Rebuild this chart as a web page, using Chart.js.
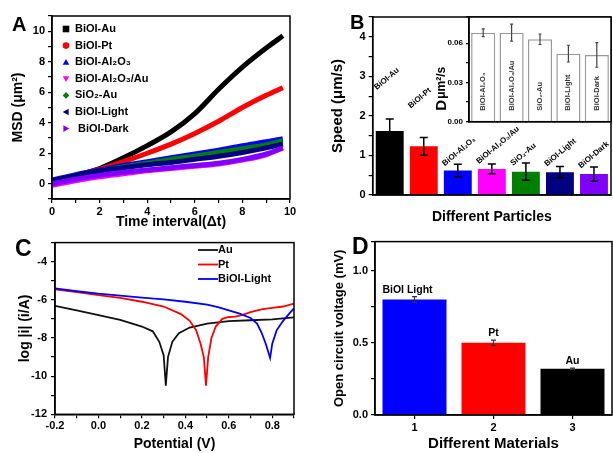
<!DOCTYPE html>
<html><head><meta charset="utf-8">
<script src="https://cdn.jsdelivr.net/npm/chart.js@4.4.0/dist/chart.umd.min.js"></script>
<style>
html,body{margin:0;padding:0;background:#fff;width:613px;height:453px;overflow:hidden;position:relative;font-family:'Liberation Sans',Arial,sans-serif}
canvas{position:absolute}
.lbl{position:absolute;font-weight:bold;line-height:1;color:#000}
</style></head><body>
<canvas id="cA" width="300" height="232" style="left:0;top:0"></canvas>
<canvas id="cB" width="313" height="232" style="left:300px;top:0"></canvas>
<canvas id="cBi" width="313" height="140" style="left:300px;top:0"></canvas>
<canvas id="cC" width="300" height="221" style="left:0;top:232px"></canvas>
<canvas id="cD" width="313" height="221" style="left:300px;top:232px"></canvas>
<div class="lbl" style="left:12px;top:14px;font-size:20px">A</div>
<div class="lbl" style="left:350px;top:12px;font-size:20px">B</div>
<div class="lbl" style="left:15px;top:237px;font-size:23px">C</div>
<div class="lbl" style="left:352px;top:235px;font-size:23px">D</div>
<script>
// ---------------- DATA ----------------
// Panel A: MSD vs time interval
const msdTime = [0, 1, 2, 3, 4, 5, 6, 7, 8, 9, 9.7];
const msdAu      = [0.2, 0.55, 1.0, 1.7, 2.5, 3.4, 4.6, 6.2, 7.65, 8.9, 9.7];
const msdPt      = [0.2, 0.55, 0.95, 1.45, 2.0, 2.6, 3.3, 4.1, 5.0, 5.8, 6.3];
const msdAl2O3   = [0.25, 0.6, 0.9, 1.2, 1.45, 1.7, 1.95, 2.2, 2.5, 2.75, 2.95];
const msdAl2O3Au = [-0.1, 0.2, 0.45, 0.65, 0.85, 1.0, 1.15, 1.3, 1.55, 1.9, 2.35];
const msdSiO2Au  = [0.2, 0.55, 0.85, 1.1, 1.35, 1.6, 1.8, 2.05, 2.3, 2.55, 2.8];
const msdLight   = [0.2, 0.55, 0.85, 1.05, 1.25, 1.4, 1.6, 1.8, 2.05, 2.35, 2.6];
const msdDark    = [0.0, 0.3, 0.55, 0.75, 0.9, 1.05, 1.2, 1.35, 1.6, 1.95, 2.35];
const msdNames = ['BiOI-Au', 'BiOI-Pt', 'BiOI-Al\u2082O\u2083', 'BiOI-Al\u2082O\u2083/Au', 'SiO\u2082-Au', 'BiOI-Light', 'BiOI-Dark'];

// Panel B: speed bars + inset diffusion bars
const particleNames = ['BiOI-Au', 'BiOI-Pt', 'BiOI-Al\u2082O\u2083', 'BiOI-Al\u2082O\u2083/Au', 'SiO\u2082-Au', 'BiOI-Light', 'BiOI-Dark'];
const speedValues = [1.62, 1.23, 0.62, 0.66, 0.59, 0.575, 0.53];
const speedErrors = [0.30, 0.225, 0.16, 0.125, 0.22, 0.145, 0.18];
const diffNames = ['BiOI-Al\u2082O\u2083', 'BiOI-Al\u2082O\u2083/Au', 'SiO\u2082-Au', 'BiOI-Light', 'BiOI-Dark'];
const diffValues = [0.068, 0.068, 0.063, 0.052, 0.051];
const diffErrors = [0.003, 0.0065, 0.004, 0.0064, 0.0094];

// Panel C: Tafel curves
const auPotential = [-0.2, -0.1, 0.0, 0.1, 0.2, 0.25, 0.28, 0.30, 0.31, 0.32, 0.34, 0.37, 0.42, 0.5, 0.6, 0.7, 0.8, 0.9];
const auLogI      = [-6.32, -6.55, -6.8, -7.05, -7.4, -7.65, -8.2, -8.9, -10.5, -9.0, -8.2, -7.75, -7.45, -7.25, -7.12, -7.07, -7.02, -6.92];
const ptPotential = [-0.2, -0.1, 0.0, 0.1, 0.2, 0.3, 0.38, 0.42, 0.45, 0.47, 0.485, 0.495, 0.505, 0.52, 0.54, 0.57, 0.6, 0.63, 0.66, 0.7, 0.75, 0.8, 0.85, 0.9];
const ptLogI      = [-5.45, -5.6, -5.75, -5.9, -6.1, -6.35, -6.75, -7.1, -7.6, -8.3, -9.0, -10.5, -9.0, -8.0, -7.4, -7.0, -6.9, -6.88, -6.8, -6.65, -6.5, -6.42, -6.35, -6.2];
const lightPotential = [-0.2, -0.1, 0.0, 0.1, 0.2, 0.3, 0.4, 0.5, 0.55, 0.6, 0.65, 0.7, 0.73, 0.75, 0.77, 0.79, 0.80, 0.82, 0.85, 0.88, 0.9];
const lightLogI      = [-5.4, -5.55, -5.68, -5.78, -5.88, -5.98, -6.1, -6.25, -6.38, -6.55, -6.72, -6.95, -7.25, -7.7, -8.3, -9.05, -8.3, -7.6, -7.1, -6.7, -6.45];
const tafelNames = ['Au', 'Pt', 'BiOI-Light'];

// Panel D: open circuit voltage
const materialTicks = ['1', '2', '3'];
const materialNames = ['BiOI Light', 'Pt', 'Au'];
const ocvValues = [0.80, 0.50, 0.32];
const ocvErrors = [0.019, 0.018, 0.005];

// ---------------- STYLE / HELPERS ----------------
const FONT = "'Liberation Sans', Arial, sans-serif";
Chart.defaults.font.family = FONT;
Chart.defaults.font.size = 11;
Chart.defaults.font.weight = 'bold';
Chart.defaults.color = '#000';

function gridStyle(len) {
  return { drawOnChartArea: false, color: '#000', lineWidth: 1.2, tickLength: len };
}
const borderStyle = { color: '#000', width: 1.5 };
const baseOpts = { responsive: false, animation: false, devicePixelRatio: 1, events: [] };

const framePlugin = {
  id: 'frame',
  afterDraw(c) {
    const a = c.chartArea, x = c.ctx;
    x.save(); x.strokeStyle = '#000'; x.lineWidth = 1.5;
    x.strokeRect(a.left, a.top, a.right - a.left, a.bottom - a.top);
    x.restore();
  }
};

function errorBarPlugin(values, errors, color, cap, lw) {
  return {
    id: 'errbars',
    afterDatasetsDraw(c) {
      const meta = c.getDatasetMeta(0), y = c.scales.y, ctx = c.ctx;
      ctx.save(); ctx.strokeStyle = color; ctx.lineWidth = lw;
      meta.data.forEach((bar, i) => {
        const t = y.getPixelForValue(values[i] + errors[i]);
        const b = y.getPixelForValue(values[i] - errors[i]);
        ctx.beginPath();
        ctx.moveTo(bar.x, t); ctx.lineTo(bar.x, b);
        ctx.moveTo(bar.x - cap, t); ctx.lineTo(bar.x + cap, t);
        ctx.moveTo(bar.x - cap, b); ctx.lineTo(bar.x + cap, b);
        ctx.stroke();
      });
      ctx.restore();
    }
  };
}

function marker(ctx, type, x, y, r, color) {
  ctx.fillStyle = color; ctx.beginPath();
  switch (type) {
    case 'square': ctx.rect(x - r, y - r, 2 * r, 2 * r); break;
    case 'circle': ctx.arc(x, y, r, 0, 2 * Math.PI); break;
    case 'up': ctx.moveTo(x, y - r); ctx.lineTo(x + r, y + r * 0.8); ctx.lineTo(x - r, y + r * 0.8); break;
    case 'down': ctx.moveTo(x, y + r); ctx.lineTo(x + r, y - r * 0.8); ctx.lineTo(x - r, y - r * 0.8); break;
    case 'diamond': ctx.moveTo(x, y - r); ctx.lineTo(x + r, y); ctx.lineTo(x, y + r); ctx.lineTo(x - r, y); break;
    case 'left': ctx.moveTo(x - r, y); ctx.lineTo(x + r * 0.8, y - r); ctx.lineTo(x + r * 0.8, y + r); break;
    case 'right': ctx.moveTo(x + r, y); ctx.lineTo(x - r * 0.8, y - r); ctx.lineTo(x - r * 0.8, y + r); break;
  }
  ctx.closePath(); ctx.fill();
}

// ---------------- PANEL A ----------------
const colorsA = ['#000000', '#ff0000', '#0000ff', '#ff00ff', '#008000', '#000080', '#8000ff'];
const markersA = ['square', 'circle', 'up', 'down', 'diamond', 'left', 'right'];
const seriesA = [msdAu, msdPt, msdAl2O3, msdAl2O3Au, msdSiO2Au, msdLight, msdDark];

const legendA = {
  id: 'legendA',
  afterDraw(c) {
    const a = c.chartArea, ctx = c.ctx;
    ctx.save();
    ctx.font = 'bold 11px ' + FONT; ctx.textBaseline = 'middle'; ctx.fillStyle = '#000';
    msdNames.forEach((n, i) => {
      const y = a.top + 13 + i * 16.6;
      marker(ctx, markersA[i], a.left + 14, y, 3.3, colorsA[i]);
      ctx.fillStyle = '#000';
      ctx.fillText(n, a.left + 23 + (i === 6 ? 3 : 0), y);
    });
    ctx.restore();
  }
};

new Chart(document.getElementById('cA'), {
  type: 'line',
  data: {
    datasets: seriesA.map((s, i) => ({
      label: msdNames[i],
      data: msdTime.map((t, j) => ({ x: t, y: s[j] })),
      borderColor: colorsA[i], borderWidth: 5, pointRadius: 0,
      cubicInterpolationMode: 'monotone', order: 6 - i
    }))
  },
  options: Object.assign({}, baseOpts, {
    layout: { padding: { left: 0, top: 16, right: 10, bottom: 0 } },
    plugins: { legend: { display: false }, tooltip: { enabled: false } },
    scales: {
      x: {
        type: 'linear', min: 0, max: 10,
        afterFit: s => { s.height = 33; },
        ticks: { stepSize: 1, autoSkip: false, maxRotation: 0, padding: 2,
          callback: v => (Math.round(v) % 2 === 0 ? Math.round(v) : '') },
        grid: gridStyle(4), border: borderStyle,
        title: { display: true, text: 'Time interval(\u0394t)', font: { size: 14, weight: 'bold' }, padding: { top: 0, bottom: 1 } }
      },
      y: {
        min: -1, max: 11,
        afterFit: s => { s.width = 52; },
        ticks: { stepSize: 1, autoSkip: false, padding: 3,
          callback: v => { const k = Math.round(v); return (k % 2 === 0 && k >= 0 && k <= 10) ? k : ''; } },
        grid: gridStyle(4), border: borderStyle,
        title: { display: true, text: 'MSD (\u03bcm\u00b2)', font: { size: 14, weight: 'bold' }, padding: { top: 10, bottom: 0 } }
      }
    }
  }),
  plugins: [framePlugin, legendA]
});

// ---------------- PANEL B ----------------
const colorsB = ['#000000', '#ff0000', '#0000ff', '#ff00ff', '#008000', '#000080', '#8000ff'];
const liftB = [29, 29, -2, 0, -3, 0, -1.5];
const rotLabelsB = {
  id: 'rotLabelsB',
  afterDatasetsDraw(c) {
    const meta = c.getDatasetMeta(0), y = c.scales.y, ctx = c.ctx;
    ctx.save(); ctx.font = 'bold 8px ' + FONT; ctx.fillStyle = '#000'; ctx.textBaseline = 'alphabetic';
    meta.data.forEach((bar, i) => {
      const x0 = bar.x - bar.width / 2 + 1;
      const y0 = y.getPixelForValue(speedValues[i] + speedErrors[i]) - liftB[i];
      ctx.save(); ctx.translate(x0, y0); ctx.rotate(-40 * Math.PI / 180);
      ctx.fillText(particleNames[i], 0, 0); ctx.restore();
    });
    ctx.restore();
  }
};

new Chart(document.getElementById('cB'), {
  type: 'bar',
  data: { labels: particleNames, datasets: [{ data: speedValues, backgroundColor: colorsB, barPercentage: 0.82, categoryPercentage: 1 }] },
  options: Object.assign({}, baseOpts, {
    layout: { padding: { left: 0, top: 17, right: 2, bottom: 0 } },
    plugins: { legend: { display: false }, tooltip: { enabled: false } },
    scales: {
      x: {
        afterFit: s => { s.height = 37; },
        ticks: { display: false },
        grid: Object.assign(gridStyle(0), { display: true }), border: borderStyle,
        title: { display: true, text: 'Different Particles', font: { size: 14, weight: 'bold' }, padding: { top: 0, bottom: 6 } }
      },
      y: {
        min: 0, max: 4.5,
        afterFit: s => { s.width = 72.7; },
        ticks: { stepSize: 0.5, autoSkip: false, padding: 3,
          callback: v => (Math.abs(v - Math.round(v)) < 1e-9 && v <= 4 ? Math.round(v) : '') },
        grid: gridStyle(4), border: borderStyle,
        title: { display: true, text: 'Speed (\u03bcm/s)', font: { size: 15, weight: 'bold' }, padding: { top: 29, bottom: 0 } }
      }
    }
  }),
  plugins: [framePlugin, errorBarPlugin(speedValues, speedErrors, '#000', 4, 1.5), rotLabelsB]
});

// Inset
const insetBg = {
  id: 'insetBg',
  beforeDraw(c) {
    const a = c.chartArea, ctx = c.ctx;
    ctx.save(); ctx.fillStyle = '#fff'; ctx.fillRect(a.left, a.top, a.right - a.left, a.bottom - a.top); ctx.restore();
  }
};
const insetText = {
  id: 'insetText',
  afterDatasetsDraw(c) {
    const meta = c.getDatasetMeta(0), ctx = c.ctx, a = c.chartArea;
    ctx.save();
    ctx.font = 'bold 7.5px ' + FONT; ctx.fillStyle = '#333'; ctx.textBaseline = 'middle'; ctx.textAlign = 'left';
    meta.data.forEach((bar, i) => {
      ctx.save(); ctx.translate(bar.x, a.bottom - 11); ctx.rotate(-Math.PI / 2);
      ctx.fillText(diffNames[i], 0, 0); ctx.restore();
    });
    ctx.restore();
    // axis title: D + μm²/s
    ctx.save();
    ctx.translate(a.left - 27, a.bottom - 11); ctx.rotate(-Math.PI / 2);
    ctx.textBaseline = 'middle'; ctx.fillStyle = '#000';
    ctx.font = 'bold 15px ' + FONT; ctx.fillText('D', 0, 0);
    const w = ctx.measureText('D').width;
    ctx.font = 'bold 12px ' + FONT; ctx.fillText('\u03bcm\u00b2/s', w + 1, 0);
    ctx.restore();
  }
};

new Chart(document.getElementById('cBi'), {
  type: 'bar',
  data: { labels: diffNames, datasets: [{ data: diffValues, backgroundColor: '#ffffff', borderColor: '#9a9a9a', borderWidth: 1.5, barPercentage: 0.85, categoryPercentage: 1 }] },
  options: Object.assign({}, baseOpts, {
    layout: { padding: { left: 0, top: 17, right: 2, bottom: 0 } },
    plugins: { legend: { display: false }, tooltip: { enabled: false } },
    scales: {
      x: {
        afterFit: s => { s.height = 18.3; },
        ticks: { display: false },
        grid: gridStyle(0), border: borderStyle
      },
      y: {
        min: 0, max: 0.08,
        afterFit: s => { s.width = 169; },
        ticks: { stepSize: 0.015, autoSkip: false, padding: 3, font: { size: 8, weight: 'bold' },
          callback: v => { const k = Math.round(v / 0.015); return (k % 2 === 0 && v < 0.07) ? v.toFixed(2) : ''; } },
        grid: gridStyle(3), border: borderStyle
      }
    }
  }),
  plugins: [insetBg, framePlugin, errorBarPlugin(diffValues, diffErrors, '#444', 1.5, 1.2), insetText]
});

// ---------------- PANEL C ----------------
const colorsC = ['#111111', '#ff0000', '#0000ff'];
const legendC = {
  id: 'legendC',
  afterDraw(c) {
    const ctx = c.ctx;
    ctx.save(); ctx.font = 'bold 11px ' + FONT; ctx.textBaseline = 'middle';
    tafelNames.forEach((n, i) => {
      const y = 18 + i * 14.5;
      ctx.strokeStyle = colorsC[i]; ctx.lineWidth = 1.8;
      ctx.beginPath(); ctx.moveTo(198, y); ctx.lineTo(218, y); ctx.stroke();
      ctx.fillStyle = '#000'; ctx.fillText(n, 218, y);
    });
    ctx.restore();
  }
};
const zip = (xs, ys) => xs.map((x, i) => ({ x: x, y: ys[i] }));

new Chart(document.getElementById('cC'), {
  type: 'line',
  data: {
    datasets: [
      { label: 'Au', data: zip(auPotential, auLogI), borderColor: colorsC[0], borderWidth: 1.8, pointRadius: 0, tension: 0, order: 2 },
      { label: 'Pt', data: zip(ptPotential, ptLogI), borderColor: colorsC[1], borderWidth: 1.8, pointRadius: 0, tension: 0, order: 1 },
      { label: 'BiOI-Light', data: zip(lightPotential, lightLogI), borderColor: colorsC[2], borderWidth: 1.8, pointRadius: 0, tension: 0, order: 0 }
    ]
  },
  options: Object.assign({}, baseOpts, {
    layout: { padding: { left: 0, top: 5.7, right: 6, bottom: 0 } },
    plugins: { legend: { display: false }, tooltip: { enabled: false } },
    scales: {
      x: {
        type: 'linear', min: -0.2, max: 0.9,
        afterFit: s => { s.height = 38.7; },
        ticks: { stepSize: 0.1, autoSkip: false, maxRotation: 0, padding: 1,
          callback: v => { const k = Math.round(v * 10); return (k % 2 === 0 && k <= 8) ? (k / 10).toFixed(1) : ''; } },
        grid: gridStyle(4), border: borderStyle,
        title: { display: true, text: 'Potential (V)', font: { size: 14, weight: 'bold' }, padding: { top: 0, bottom: 0 } }
      },
      y: {
        min: -12, max: -3,
        afterFit: s => { s.width = 55; },
        ticks: { stepSize: 1, autoSkip: false, padding: 4,
          callback: v => { const k = Math.round(v); return (k % 2 === 0 && k <= -4) ? k : ''; } },
        grid: gridStyle(4), border: borderStyle,
        title: { display: true, text: 'log |i| (i/A)', font: { size: 14, weight: 'bold' }, padding: { top: 16.6, bottom: 0 } }
      }
    }
  }),
  plugins: [framePlugin, legendC]
});

// ---------------- PANEL D ----------------
const colorsD = ['#0000ff', '#ff0000', '#000000'];
const labelsD = {
  id: 'labelsD',
  afterDatasetsDraw(c) {
    const meta = c.getDatasetMeta(0), y = c.scales.y, ctx = c.ctx;
    ctx.save(); ctx.font = 'bold 10.5px ' + FONT; ctx.fillStyle = '#000'; ctx.textAlign = 'center'; ctx.textBaseline = 'alphabetic';
    meta.data.forEach((bar, i) => {
      ctx.fillText(materialNames[i], bar.x - (i === 0 ? 7 : 0), y.getPixelForValue(ocvValues[i] + ocvErrors[i]) - 4);
    });
    ctx.restore();
  }
};

new Chart(document.getElementById('cD'), {
  type: 'bar',
  data: { labels: materialTicks, datasets: [{ data: ocvValues, backgroundColor: colorsD, barPercentage: 0.81, categoryPercentage: 1 }] },
  options: Object.assign({}, baseOpts, {
    layout: { padding: { left: 0, top: 5.7, right: 1, bottom: 0 } },
    plugins: { legend: { display: false }, tooltip: { enabled: false } },
    scales: {
      x: {
        afterFit: s => { s.height = 38; },
        ticks: { padding: 2, maxRotation: 0 },
        grid: Object.assign(gridStyle(4), { offset: false }), border: borderStyle,
        title: { display: true, text: 'Different Materials', font: { size: 15, weight: 'bold' }, padding: { top: 0, bottom: 0 } }
      },
      y: {
        min: 0, max: 1.2,
        afterFit: s => { s.width = 75; },
        ticks: { stepSize: 0.25, autoSkip: false, padding: 3,
          callback: v => { const k = Math.round(v * 4); return (k % 2 === 0 && k <= 4) ? (k / 4).toFixed(1) : ''; } },
        grid: gridStyle(4), border: borderStyle,
        title: { display: true, text: 'Open circuit voltage (mV)', font: { size: 13, weight: 'bold' }, padding: { top: 32, bottom: 0 } }
      }
    }
  }),
  plugins: [framePlugin, errorBarPlugin(ocvValues, ocvErrors, '#333', 2.5, 1.2), labelsD]
});
</script>
</body></html>
